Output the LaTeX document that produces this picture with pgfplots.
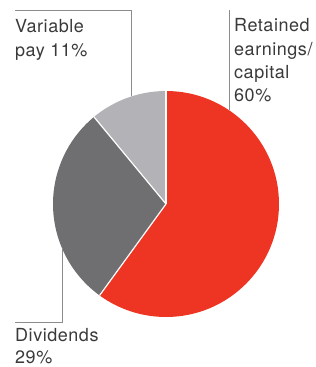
\documentclass[border=0pt]{standalone}
\usepackage{pgfplots}
\pgfplotsset{compat=1.18}
\usepackage{fontspec}
\setmainfont{TeX Gyre Heros}[LetterSpace=3]
\definecolor{pred}{HTML}{EE3524}
\definecolor{pdark}{HTML}{6F6F71}
\definecolor{plight}{HTML}{B3B3B7}
\definecolor{ptext}{HTML}{3A3A3A}
\definecolor{pline}{HTML}{8C8C8C}
\begin{document}
\begin{tikzpicture}
\def\R{113}
\def\vA{60}\def\vB{29}\def\vC{11}
\pgfmathsetmacro\aA{90}
\pgfmathsetmacro\aB{90-3.6*\vA}
\pgfmathsetmacro\aC{\aB-3.6*\vB}
\pgfmathsetmacro\aD{\aC-3.6*\vC}
\begin{axis}[hide axis, x=1pt, y=1pt, xmin=-166, xmax=150, ymin=-163, ymax=204, clip=false]
\fill[pred] (axis cs:0,0) -- (axis cs:{\R*cos(\aA)},{\R*sin(\aA)}) arc[start angle=\aA, end angle=\aB, radius=\R] -- cycle;
\fill[pdark] (axis cs:0,0) -- (axis cs:{\R*cos(\aB)},{\R*sin(\aB)}) arc[start angle=\aB, end angle=\aC, radius=\R] -- cycle;
\fill[plight] (axis cs:0,0) -- (axis cs:{\R*cos(\aC)},{\R*sin(\aC)}) arc[start angle=\aC, end angle=\aD, radius=\R] -- cycle;
\draw[white, line width=1.2pt] (axis cs:0,0) -- (axis cs:{\R*cos(\aA)},{\R*sin(\aA)});
\draw[white, line width=1.2pt] (axis cs:0,0) -- (axis cs:{\R*cos(\aB)},{\R*sin(\aB)});
\draw[white, line width=1.2pt] (axis cs:0,0) -- (axis cs:{\R*cos(\aC)},{\R*sin(\aC)});
\addplot[pline, line width=0.6pt, mark=none] coordinates {(-151,194) (-35,194) (-35,108)};
\addplot[pline, line width=0.6pt, mark=none] coordinates {(63,194) (63,94)};
\addplot[pline, line width=0.6pt, mark=none] coordinates {(-104,-44) (-104,-118) (-151,-118)};
\begin{scope}[every node/.style={anchor=base west, inner sep=0pt, text=ptext, font=\fontsize{18}{20}\selectfont}]
\node at (axis cs:-151,171) {Variable};
\node at (axis cs:-151,147) {pay 11\%};
\node at (axis cs:68,172) {Retained};
\node at (axis cs:68,148.5) {earnings/};
\node at (axis cs:68,125) {capital};
\node at (axis cs:68,102) {60\%};
\node at (axis cs:-151,-138) {Dividends};
\node at (axis cs:-151,-160) {29\%};
\end{scope}
\coordinate (bl) at (axis cs:-166,-163);
\coordinate (tr) at (axis cs:150,204);
\end{axis}
\pgfresetboundingbox
\path[use as bounding box] (bl) rectangle (tr);
\end{tikzpicture}
\end{document}
